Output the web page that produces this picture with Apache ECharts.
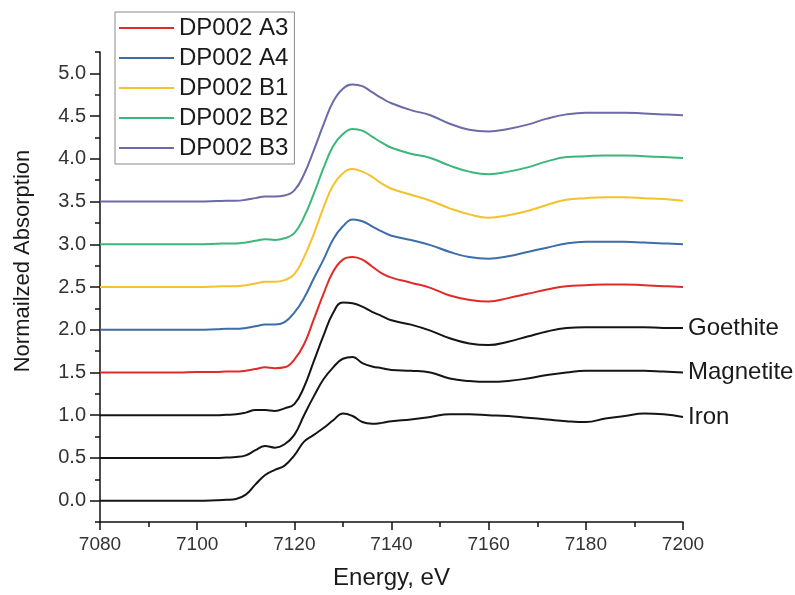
<!DOCTYPE html>
<html>
<head>
<meta charset="utf-8">
<script src="https://cdn.jsdelivr.net/npm/echarts@6/dist/echarts.min.js"></script>
<style>
html,body{margin:0;padding:0;background:#fff;}
#chart{width:795px;height:595px;}
</style>
</head>
<body>
<div id="chart"></div>
<script>
// ---- Data ----
var energy = [7080,7084,7088,7092,7096,7100,7104,7106,7108,7110,7112,7114,7116,7118,7120,7122,7124,7126,7128,7130,7132,7134,7136,7138,7140,7144,7148,7152,7156,7160,7164,7168,7172,7176,7180,7184,7188,7192,7196,7200];

var dpA3 = [1.50,1.50,1.50,1.50,1.50,1.505,1.505,1.51,1.51,1.52,1.54,1.56,1.55,1.56,1.65,1.83,2.12,2.42,2.68,2.82,2.85,2.82,2.74,2.66,2.61,2.55,2.49,2.40,2.35,2.33,2.37,2.42,2.47,2.51,2.52,2.53,2.53,2.52,2.51,2.50];
var dpA4 = [2.00,2.00,2.00,2.00,2.00,2.00,2.005,2.01,2.01,2.02,2.04,2.06,2.06,2.09,2.20,2.37,2.60,2.82,3.06,3.21,3.29,3.27,3.21,3.15,3.10,3.05,2.99,2.91,2.85,2.83,2.86,2.91,2.96,3.01,3.03,3.03,3.03,3.02,3.01,3.00];
var dpB1 = [2.50,2.50,2.50,2.50,2.50,2.50,2.505,2.51,2.51,2.52,2.54,2.56,2.56,2.58,2.65,2.85,3.12,3.43,3.69,3.83,3.88,3.85,3.79,3.71,3.65,3.58,3.51,3.42,3.35,3.31,3.34,3.39,3.46,3.52,3.54,3.55,3.55,3.54,3.53,3.51];
var dpB2 = [3.00,3.00,3.00,3.00,3.00,3.00,3.005,3.01,3.01,3.02,3.04,3.06,3.05,3.07,3.13,3.32,3.59,3.89,4.15,4.29,4.35,4.33,4.26,4.19,4.13,4.06,4.01,3.92,3.85,3.82,3.85,3.90,3.97,4.02,4.03,4.04,4.04,4.03,4.02,4.01];
var dpB3 = [3.50,3.50,3.50,3.50,3.50,3.50,3.505,3.51,3.51,3.52,3.54,3.56,3.56,3.57,3.63,3.82,4.10,4.40,4.67,4.82,4.87,4.85,4.78,4.71,4.65,4.57,4.51,4.41,4.34,4.32,4.35,4.40,4.47,4.52,4.54,4.54,4.54,4.53,4.52,4.51];

var goethite = [1.00,1.00,1.00,1.00,1.00,1.00,1.00,1.005,1.01,1.03,1.06,1.06,1.05,1.08,1.13,1.33,1.63,1.93,2.20,2.32,2.31,2.27,2.21,2.16,2.11,2.06,1.99,1.90,1.84,1.82,1.86,1.92,1.98,2.02,2.03,2.03,2.03,2.03,2.02,2.02];
var magnetite = [0.50,0.50,0.50,0.50,0.50,0.50,0.50,0.505,0.51,0.53,0.59,0.64,0.62,0.66,0.77,1.00,1.22,1.42,1.56,1.66,1.68,1.61,1.57,1.55,1.53,1.52,1.50,1.43,1.40,1.39,1.40,1.43,1.47,1.50,1.52,1.52,1.52,1.52,1.51,1.50];
var iron = [0,0,0,0,0,0,0.005,0.01,0.02,0.07,0.19,0.30,0.36,0.41,0.53,0.69,0.77,0.85,0.94,1.02,0.99,0.92,0.90,0.91,0.93,0.95,0.98,1.01,1.01,1.00,0.99,0.97,0.95,0.93,0.92,0.96,0.99,1.02,1.01,0.98];

var yMajorTicks = [0,0.5,1.0,1.5,2.0,2.5,3.0,3.5,4.0,4.5,5.0];
var yMinorTicks = [-0.25,0.25,0.75,1.25,1.75,2.25,2.75,3.25,3.75,4.25,4.75,5.25];

var sampleNames = ['DP002 A3','DP002 A4','DP002 B1','DP002 B2','DP002 B3'];
var sampleColors = ['#e12a2a','#3d6ea8','#f3c22c','#3db67a','#6d6aa8'];
var sampleValues = [dpA3, dpA4, dpB1, dpB2, dpB3];
var refNames = ['Goethite','Magnetite','Iron'];
var refValues = [goethite, magnetite, iron];

function pairs(xs, ys){ return xs.map(function(x,i){ return [x, ys[i]]; }); }

var FONT = 'Liberation Sans, Arial, sans-serif';
var SMOOTH = 0.45;
var series = [];
sampleNames.forEach(function(name, i){
  series.push({
    name: name, type: 'line', data: pairs(energy, sampleValues[i]),
    showSymbol: false, symbol: 'none', smooth: SMOOTH, legendIcon: 'rect',
    lineStyle: {color: sampleColors[i], width: 2}, itemStyle: {color: sampleColors[i]},
    z: 3
  });
});
refNames.forEach(function(name, i){
  series.push({
    name: name, type: 'line', data: pairs(energy, refValues[i]),
    showSymbol: false, symbol: 'none', smooth: SMOOTH,
    lineStyle: {color: '#151515', width: 2}, itemStyle: {color: '#151515'},
    endLabel: {show: true, formatter: name, color: '#1a1a1a', fontSize: 24, fontFamily: FONT, distance: 5},
    z: 3
  });
});

var chart = echarts.init(document.getElementById('chart'), null, {renderer: 'canvas'});
chart.setOption({
  backgroundColor: '#ffffff',
  animation: false,
  legend: {
    show: true,
    data: sampleNames,
    orient: 'vertical',
    left: 115, top: 12,
    itemWidth: 55, itemHeight: 2.5, itemGap: 6,
    padding: [4, 6, 4, 3],
    borderColor: '#8a8a8a', borderWidth: 1,
    backgroundColor: '#ffffff',
    textStyle: {fontSize: 24, fontFamily: FONT, color: '#1a1a1a', lineHeight: 24}
  },
  grid: {left: 100, right: 112, top: 52, bottom: 72, containLabel: false},
  xAxis: {
    type: 'value', min: 7080, max: 7200, interval: 20,
    name: 'Energy, eV', nameLocation: 'middle', nameGap: 44,
    nameTextStyle: {fontSize: 24, fontFamily: FONT, color: '#1a1a1a'},
    axisLine: {show: true, onZero: false, lineStyle: {color: '#111', width: 1.5}},
    axisTick: {show: true, length: 8, inside: false, lineStyle: {color: '#111', width: 1.5}},
    minorTick: {show: true, splitNumber: 2, length: 5, lineStyle: {color: '#111', width: 1.5}},
    axisLabel: {fontSize: 19, fontFamily: FONT, color: '#333', margin: 13,
      formatter: function(v){ return String(v); }},
    splitLine: {show: false}, minorSplitLine: {show: false}
  },
  yAxis: [{
    type: 'value', min: -0.25, max: 5.25,
    name: 'Normailzed Absorption', nameLocation: 'middle', nameGap: 66,
    nameTextStyle: {fontSize: 22, fontFamily: FONT, color: '#1a1a1a', padding: [0, 0, 0, 52]},
    axisLine: {show: true, onZero: false, lineStyle: {color: '#111', width: 1.5}},
    axisTick: {show: true, length: 10, customValues: yMajorTicks, lineStyle: {color: '#111', width: 1.5}},
    axisLabel: {show: true, customValues: yMajorTicks, fontSize: 20, fontFamily: FONT, color: '#333', margin: 14,
      formatter: function(v){ return v.toFixed(1); }},
    splitLine: {show: false}
  }, {
    type: 'value', min: -0.25, max: 5.25, position: 'left', offset: 0,
    axisLine: {show: false},
    axisTick: {show: true, length: 5, customValues: yMinorTicks, lineStyle: {color: '#111', width: 1.5}},
    axisLabel: {show: false},
    splitLine: {show: false}
  }],
  series: series
});
</script>
</body>
</html>
